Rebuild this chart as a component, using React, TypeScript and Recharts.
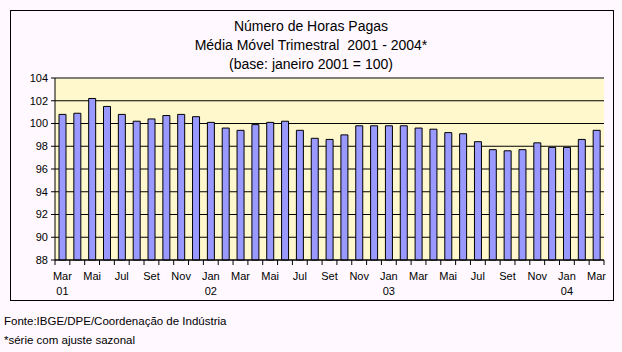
import { BarChart, Bar, XAxis, YAxis, CartesianGrid, ReferenceLine } from "recharts";

const months = [
  "Mar", "Abr", "Mai", "Jun", "Jul", "Ago", "Set", "Out", "Nov", "Dez",
  "Jan", "Fev", "Mar", "Abr", "Mai", "Jun", "Jul", "Ago", "Set", "Out", "Nov", "Dez",
  "Jan", "Fev", "Mar", "Abr", "Mai", "Jun", "Jul", "Ago", "Set", "Out", "Nov", "Dez",
  "Jan", "Fev", "Mar",
];
const years = [
  "01", "01", "01", "01", "01", "01", "01", "01", "01", "01",
  "02", "02", "02", "02", "02", "02", "02", "02", "02", "02", "02", "02",
  "03", "03", "03", "03", "03", "03", "03", "03", "03", "03", "03", "03",
  "04", "04", "04",
];
const horas = [
  100.8, 100.9, 102.2, 101.5, 100.8, 100.2, 100.4, 100.7, 100.8, 100.6,
  100.1, 99.6, 99.4, 99.9, 100.1, 100.2, 99.4, 98.7, 98.6, 99.0, 99.8, 99.8,
  99.8, 99.8, 99.6, 99.5, 99.2, 99.1, 98.4, 97.7, 97.6, 97.7, 98.3, 97.9,
  97.9, 98.6, 99.4,
];
const yTicks = [88, 90, 92, 94, 96, 98, 100, 102, 104];
const yearShown = [0, 10, 22, 34];

const data = horas.map((v, i) => ({ key: i, mes: months[i], ano: years[i], v }));

const FONT = "Arial, 'Liberation Sans', sans-serif";
const BAND = 549 / horas.length;

function MonthTick(props: any) {
  const { x, y, index } = props;
  const left = x - BAND / 2;
  const last = index === horas.length - 1;
  return (
    <g>
      <line x1={left} x2={left} y1={y} y2={y + 5} stroke="#000" />
      {last && <line x1={x + BAND / 2} x2={x + BAND / 2} y1={y} y2={y + 5} stroke="#000" />}
      {index % 2 === 0 && (
        <text x={x} y={y + 20} textAnchor="middle" fontSize={11} fontFamily={FONT} fill="#000">
          {months[index]}
        </text>
      )}
      {yearShown.includes(index) && (
        <text x={x} y={y + 35} textAnchor="middle" fontSize={11} fontFamily={FONT} fill="#000">
          {years[index]}
        </text>
      )}
    </g>
  );
}

export default function App() {
  return (
    <div
      style={{
        position: "absolute",
        left: 0,
        top: 0,
        width: 622,
        height: 352,
        background: "#FFF8FF",
        fontFamily: FONT,
        color: "#000",
      }}
    >
      <div
        style={{
          position: "absolute",
          left: 10,
          top: 10,
          width: 602,
          height: 289,
          border: "1px solid #000",
        }}
      />
      <div style={{ position: "absolute", left: 0, top: 17, width: 622, textAlign: "center", fontSize: 14, lineHeight: "19px" }}>
        <div>Número de Horas Pagas</div>
        <div>Média Móvel Trimestral&nbsp; 2001 - 2004*</div>
        <div>(base: janeiro 2001 = 100)</div>
      </div>
      <div style={{ position: "absolute", left: 0, top: 0 }}>
        <BarChart
          width={622}
          height={310}
          data={data}
          margin={{ top: 78, right: 18, bottom: 10, left: 10 }}
          barSize={7}
        >
          <CartesianGrid vertical={false} stroke="#000" fill="#FFF8CC" fillOpacity={1} />
          <XAxis
            dataKey="key"
            interval={0}
            height={40}
            tickSize={0}
            tickMargin={0}
            tickLine={false}
            axisLine={{ stroke: "#000" }}
            tick={<MonthTick />}
          />
          <YAxis
            domain={[88, 104]}
            ticks={yTicks}
            interval={0}
            width={45}
            tickSize={4}
            tickMargin={3}
            axisLine={{ stroke: "#000" }}
            tickLine={{ stroke: "#000" }}
            tick={{ fontSize: 11, fill: "#000", fontFamily: FONT }}
          />
          <YAxis
            yAxisId="r"
            orientation="right"
            width={0}
            tick={false}
            tickLine={false}
            axisLine={{ stroke: "#808080" }}
          />
          <ReferenceLine y={104} stroke="#808080" />
          <Bar dataKey="v" fill="#9999FF" stroke="#000" strokeWidth={1} isAnimationActive={false} />
        </BarChart>
      </div>
      <div style={{ position: "absolute", left: 4, top: 315, fontSize: 11.5 }}>
        Fonte:IBGE/DPE/Coordenação de Indústria
      </div>
      <div style={{ position: "absolute", left: 4, top: 334, fontSize: 11.5 }}>
        *série com ajuste sazonal
      </div>
    </div>
  );
}
